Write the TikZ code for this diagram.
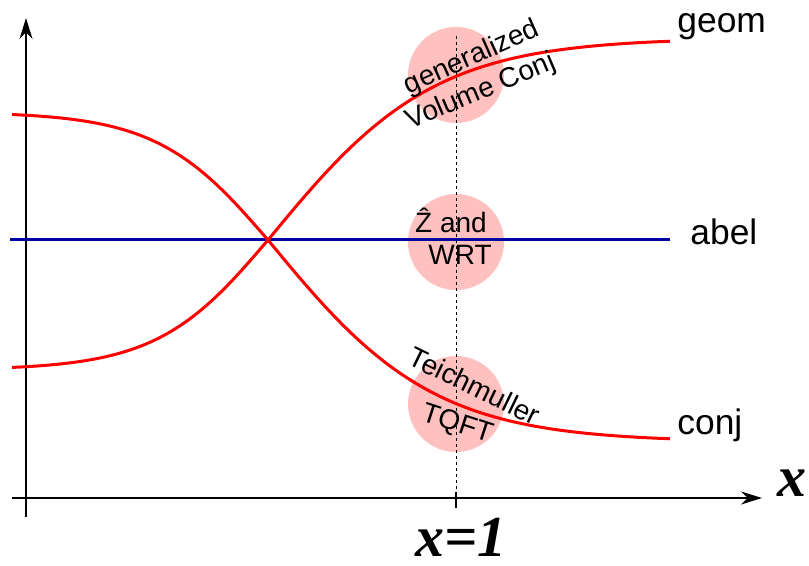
\documentclass[tikz,border=0pt]{standalone}
\usepackage{fontspec}
\setmainfont{Liberation Sans}
\newfontfamily\tms{Liberation Serif}
\usetikzlibrary{arrows.meta}
\definecolor{disc}{RGB}{255,192,192}
\definecolor{abelblue}{RGB}{0,0,160}
\begin{document}
\begin{tikzpicture}[x=0.5pt,y=-0.5pt,>={Stealth[length=10.5pt,width=6.5pt]},
  lab/.style={font=\fontsize{17.7}{20}\selectfont,anchor=base west,inner sep=0pt},
  tag/.style={font=\fontsize{14}{16}\selectfont,inner sep=0pt},
  big/.style={font=\tms\bfseries\itshape\fontsize{29}{32}\selectfont,anchor=base,inner sep=0pt},
  curve/.style={red,line width=1.5pt,samples=80}]
\useasboundingbox (0,0) rectangle (809,566);
% pink discs on the line x=1
\fill[disc] (456,75) circle (48) (456,242) circle (48) (456,404) circle (48);
% axes
\coordinate (ybot) at (26,517);
\coordinate (ytop) at (26,18);
\coordinate (xleft) at (12,498);
\coordinate (xright) at (762,498);
\coordinate (dtop) at (456,36);
\coordinate (dbot) at (456,492);
\coordinate (tick) at (456,508);
\draw[->,line width=.75pt] (ybot)--(ytop);
\draw[->,line width=.75pt] (xleft)--(xright);
\draw[dash pattern=on 1.5pt off 1.5pt,line width=.5pt] (dtop)--(dbot);
\draw[line width=.75pt] (dbot)--(tick);
% abel, geom and conj
\draw[abelblue,line width=1.5pt] (10,240)--(670,240);
\draw[curve] plot[domain=12:268] (\x,{240-130*tanh(0.009*(\x-268))})
  -- plot[domain=268:670] (\x,{240-202*tanh(0.006*(\x-268))});
\draw[curve] plot[domain=12:268] (\x,{240+128*tanh(0.009*(\x-268))})
  -- plot[domain=268:670] (\x,{240+202*tanh(0.006*(\x-268))});
\node[lab] (geom) at (677,33) {geom};
\node[lab] (abel) at (690,245) {abel};
\node[lab] (conj) at (677,435) {conj};
% texts in the discs
\node[tag,rotate=24] (gen) at (472,58) {generalized};
\node[tag,rotate=23] (vol) at (481,92) {Volume Conj};
\node[tag,anchor=base] (zand) at (451,233) {\^{Z} and};
\node[tag,anchor=base] (wrt) at (460,265) {WRT};
\node[tag,rotate=-26] (teich) at (475,386) {Teichmuller};
\node[tag,rotate=-18] (tqft) at (457,425) {TQFT};
% axis labels
\node[big] (xlab) at (792,497) {x};
\node[big] (xone) at (461,557) {x=1};
\end{tikzpicture}
\end{document}
